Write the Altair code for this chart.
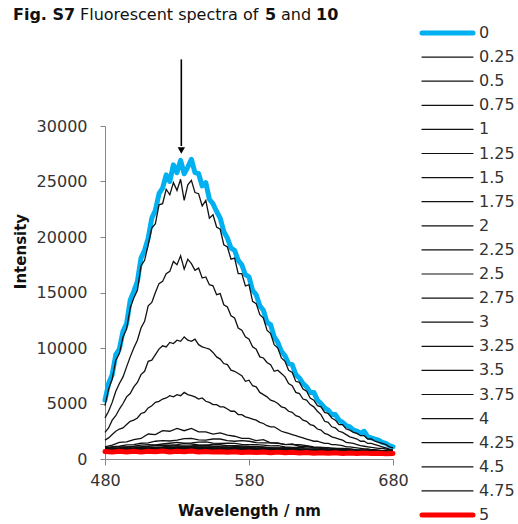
import altair as alt
import pandas as pd

# ---- data ----
WL25 = [480.0, 482.5, 485.0, 487.5, 490.0, 492.5, 495.0, 497.5, 500.0, 502.5,
        505.0, 507.5, 510.0, 512.5, 515.0, 517.5, 520.0, 522.5, 525.0, 527.5,
        530.0, 532.5, 535.0, 537.5, 540.0, 542.5, 545.0, 547.5, 550.0, 552.5,
        555.0, 557.5, 560.0, 562.5, 565.0, 567.5, 570.0, 572.5, 575.0, 577.5,
        580.0, 582.5, 585.0, 587.5, 590.0, 592.5, 595.0, 597.5, 600.0, 602.5,
        605.0, 607.5, 610.0, 612.5, 615.0, 617.5, 620.0, 622.5, 625.0, 627.5,
        630.0, 632.5, 635.0, 637.5, 640.0, 642.5, 645.0, 647.5, 650.0, 652.5,
        655.0, 657.5, 660.0, 662.5, 665.0, 667.5, 670.0, 672.5, 675.0, 677.5, 680.0]
WL5 = [480, 485, 490, 495, 500, 505, 510, 515, 520, 525, 530, 535, 540, 545, 550,
       555, 560, 565, 570, 575, 580, 585, 590, 595, 600, 605, 610, 615, 620, 625,
       630, 635, 640, 645, 650, 655, 660, 665, 670, 675, 680]

LABELS = ["0", "0.25", "0.5", "0.75", "1", "1.25", "1.5", "1.75", "2", "2.25", "2.5",
          "2.75", "3", "3.25", "3.5", "3.75", "4", "4.25", "4.5", "4.75", "5"]

s0 = [5300, 6800, 7600, 9400, 9900, 11500, 12200, 14300, 15100, 16000,
      18100, 18800, 19900, 21700, 22400, 23900, 24400, 25600, 25000, 26500,
      25800, 26900, 25700, 26300, 27000, 25800, 25700, 24600, 24900, 23400,
      23000, 22300, 21700, 20500, 19900, 19000, 18800, 17900, 17500, 16600,
      16400, 15200, 14800, 13800, 13400, 12300, 12100, 11000, 10500, 9700,
      9300, 8600, 8500, 7600, 7300, 6800, 6500, 6000, 6000, 5300,
      5000, 4600, 4400, 4000, 4000, 3500, 3300, 3000, 2900, 2600,
      2500, 2300, 2500, 2000, 1900, 1800, 1700, 1500, 1400, 1200, 1100]
s025 = [4800, 6300, 7200, 8900, 9500, 11000, 11700, 13600, 14500, 15200,
        17400, 17900, 19300, 20800, 21200, 22900, 23000, 24300, 23800, 24900,
        24200, 25200, 23300, 24700, 25100, 24000, 23900, 22800, 23300, 21700,
        22000, 20900, 20700, 19300, 19100, 18000, 18100, 16700, 16700, 15600,
        15700, 14200, 14000, 13000, 12700, 11600, 11300, 10300, 10000, 9100,
        8800, 8000, 7800, 7000, 6900, 6300, 6100, 5500, 5300, 4800,
        4700, 4200, 4100, 3700, 3500, 3100, 3100, 2700, 2600, 2400,
        2300, 2100, 2100, 1800, 1800, 1600, 1500, 1400, 1300, 1100, 1000]
s05 = [3700, 4300, 5100, 6100, 6800, 7400, 8300, 9200, 10000, 10700,
       11800, 12400, 13800, 14100, 15000, 15800, 16000, 16700, 16900, 17800,
       17500, 18300, 17100, 18000, 17600, 17000, 17200, 16300, 16400, 15700,
       15600, 14800, 14900, 13900, 13700, 12900, 12700, 11800, 11600, 11000,
       10800, 10100, 9900, 9200, 9100, 8700, 8500, 7900, 8000, 7700,
       7400, 6800, 6600, 6000, 5900, 5400, 5300, 4900, 4700, 4300,
       4000, 3400, 3300, 2900, 2800, 2500, 2400, 2200, 2000, 1900,
       1800, 1600, 1600, 1400, 1400, 1300, 1200, 1100, 1000, 900, 800]
s075 = [2400, 2800, 3500, 3900, 4500, 5000, 5600, 5900, 6500, 6900,
        7600, 7900, 8800, 8900, 9400, 9900, 10200, 10100, 10500, 10400,
        10700, 10600, 11000, 10700, 10600, 10800, 10300, 10100, 10000, 9900,
        9600, 9200, 9000, 8600, 8500, 8000, 7900, 7700, 7500, 7000,
        7100, 6600, 6500, 6000, 5800, 5600, 5300, 5200, 5000, 4700,
        4600, 4300, 4200, 3900, 3800, 3500, 3400, 3100, 3000, 2700,
        2600, 2300, 2200, 2000, 1900, 1800, 1700, 1500, 1450, 1400,
        1300, 1200, 1150, 1100, 1050, 1000, 950, 950, 900, 850, 800]
s1 = [1700, 1900, 2200, 2500, 2700, 2800, 3100, 3400, 3500, 3700,
      4100, 4200, 4600, 4800, 5100, 5200, 5400, 5500, 5700, 5600,
      5800, 5700, 6000, 5800, 5700, 5600, 5400, 5500, 5200, 5100,
      4900, 4900, 4700, 4700, 4500, 4300, 4300, 4000, 4000, 3800,
      3700, 3600, 3500, 3300, 3200, 3000, 2900, 2900, 2700, 2500,
      2400, 2300, 2200, 2100, 2000, 1900, 1800, 1700, 1600, 1600,
      1500, 1400, 1400, 1300, 1300, 1250, 1200, 1100, 1100, 1050,
      1000, 950, 900, 900, 850, 850, 800, 750, 750, 700, 700]

s125 = [1100, 1250, 1500, 1550, 1750, 1850, 2250, 2200, 2550, 2500, 2750, 2550, 2750, 2450,
        2450, 2250, 2350, 2150, 2050, 1850, 1850, 1650, 1750, 1450, 1450, 1300, 1350, 1150,
        1150, 1000, 1050, 920, 950, 870, 880, 820, 830, 780, 780, 720, 700]
s15 = [1000, 1120, 1150, 1280, 1300, 1420, 1450, 1600, 1650, 1620, 1700, 1830, 1850, 1720,
       1700, 1800, 1800, 1650, 1600, 1650, 1600, 1480, 1450, 1460, 1400, 1320, 1300, 1290,
       1200, 1080, 1050, 1030, 950, 960, 900, 820, 800, 800, 750, 710, 700]
s175 = [950, 1050, 1100, 1080, 1150, 1250, 1300, 1280, 1350, 1420, 1500, 1430, 1450, 1520,
        1550, 1430, 1400, 1430, 1400, 1320, 1300, 1300, 1250, 1190, 1200, 1100, 1050, 1050,
        1000, 990, 950, 880, 850, 840, 820, 760, 750, 740, 720, 690, 680]
s2 = [900, 980, 1000, 1080, 1100, 1110, 1150, 1230, 1250, 1240, 1300, 1380, 1350, 1270,
      1250, 1310, 1300, 1200, 1200, 1190, 1150, 1140, 1100, 1030, 1000, 1020, 1000, 920,
      900, 880, 850, 830, 800, 760, 750, 740, 720, 690, 680, 670, 660]
s225 = [880, 900, 950, 990, 1000, 1060, 1080, 1070, 1100, 1170, 1200, 1150, 1180, 1230,
        1250, 1160, 1150, 1180, 1150, 1090, 1080, 1070, 1050, 990, 980, 970, 950, 880,
        850, 840, 820, 780, 750, 760, 740, 710, 700, 670, 660, 660, 650]
s25 = [860, 900, 920, 920, 950, 990, 1000, 1040, 1060, 1090, 1100, 1160, 1150, 1100,
       1080, 1120, 1110, 1060, 1040, 1060, 1050, 1000, 980, 970, 950, 910, 900, 890,
       860, 810, 790, 780, 760, 720, 700, 710, 700, 670, 650, 650, 640]
s275 = [850, 860, 880, 910, 930, 930, 950, 990, 1010, 1020, 1040, 1050, 1060, 1090,
        1080, 1030, 1010, 1020, 1000, 970, 970, 960, 950, 910, 890, 880, 870, 840,
        820, 800, 780, 760, 740, 720, 710, 690, 680, 660, 650, 640, 630]
s3 = [840, 850, 870, 880, 890, 920, 940, 940, 950, 990, 1010, 1000, 1020, 1000,
      990, 1000, 1000, 970, 960, 960, 950, 920, 910, 890, 880, 860, 840, 820,
      800, 790, 770, 740, 730, 710, 690, 680, 670, 650, 640, 630, 620]
s325 = [830, 840, 850, 870, 880, 900, 910, 920, 930, 950, 960, 980, 990, 970,
        960, 970, 960, 950, 940, 920, 910, 900, 890, 870, 850, 840, 820, 810,
        790, 770, 750, 740, 720, 700, 690, 680, 660, 650, 640, 620, 610]
s35 = [820, 830, 840, 860, 870, 870, 880, 900, 910, 920, 930, 940, 950, 950,
       940, 930, 920, 920, 910, 890, 880, 870, 860, 840, 830, 810, 800, 780,
       760, 740, 730, 710, 700, 690, 680, 660, 650, 630, 620, 610, 600]
s375 = [810, 820, 830, 840, 850, 860, 870, 880, 880, 900, 910, 910, 920, 920,
        910, 900, 900, 890, 880, 880, 870, 850, 840, 820, 810, 800, 780, 760,
        750, 730, 720, 710, 700, 680, 670, 650, 640, 630, 620, 610, 600]
s4 = [800, 810, 820, 830, 840, 850, 850, 860, 870, 880, 890, 900, 900, 890,
      890, 880, 880, 870, 870, 860, 850, 830, 820, 810, 800, 780, 770, 750,
      740, 720, 710, 700, 690, 670, 660, 650, 640, 620, 610, 600, 590]
s425 = [790, 800, 810, 810, 820, 830, 840, 850, 860, 860, 870, 880, 880, 870,
        870, 860, 860, 850, 850, 840, 830, 820, 810, 790, 780, 770, 760, 740,
        730, 710, 700, 690, 680, 660, 650, 640, 630, 610, 600, 590, 580]
s45 = [780, 790, 800, 800, 810, 820, 830, 830, 840, 840, 850, 850, 860, 860,
       860, 850, 850, 840, 830, 820, 810, 800, 790, 780, 770, 750, 740, 730,
       720, 700, 690, 680, 670, 660, 650, 630, 620, 610, 600, 590, 580]
s475 = [770, 780, 790, 800, 800, 810, 810, 820, 820, 830, 840, 840, 840, 840,
        840, 830, 830, 820, 810, 800, 800, 790, 780, 770, 760, 740, 730, 720,
        710, 690, 680, 670, 660, 650, 640, 630, 620, 600, 590, 580, 570]
s5 = [680, 620, 700, 640, 690, 620, 700, 650, 720, 640, 700, 660, 720, 640, 680, 620, 660,
      600, 650, 590, 640, 580, 630, 560, 620, 570, 600, 540, 580, 520, 570, 520, 560, 500,
      540, 500, 530, 490, 520, 480, 500]

SERIES = {
    "0": (WL25, s0), "0.25": (WL25, s025), "0.5": (WL25, s05), "0.75": (WL25, s075),
    "1": (WL25, s1), "1.25": (WL5, s125), "1.5": (WL5, s15), "1.75": (WL5, s175),
    "2": (WL5, s2), "2.25": (WL5, s225), "2.5": (WL5, s25), "2.75": (WL5, s275),
    "3": (WL5, s3), "3.25": (WL5, s325), "3.5": (WL5, s35), "3.75": (WL5, s375),
    "4": (WL5, s4), "4.25": (WL5, s425), "4.5": (WL5, s45), "4.75": (WL5, s475),
    "5": (WL5, s5),
}

ARROW_WL = [533]
ARROW_TOP = [36000]
ARROW_END = [28200]
ARROW_TIP = [27800]

# ---- build tables ----
rows = []
for lab in LABELS:
    wls, vals = SERIES[lab]
    for w, v in zip(wls, vals):
        rows.append({"series": lab, "wl": w, "v": v})
df = pd.DataFrame(rows)

BLUE = "#00B0F0"
RED = "#FF0000"
FONT = "DejaVu Sans"
AX = "#868686"

legend_df = pd.DataFrame({
    "idx": list(range(len(LABELS))),
    "label": LABELS,
    "col": [BLUE if l == "0" else (RED if l == "5" else "#111111") for l in LABELS],
    "w": [5 if l in ("0", "5") else 1.2 for l in LABELS],
})

xenc = alt.X("wl:Q", scale=alt.Scale(domain=[480, 680], nice=False, zero=False),
             axis=alt.Axis(values=[480, 580, 680], title="Wavelength / nm",
                           titleFont=FONT, titleFontSize=15, titleFontWeight="bold",
                           titleColor="#111", titleBaseline="alphabetic", titleY=56,
                           labelFont=FONT, labelFontSize=16, labelColor="#333",
                           labelPadding=7, tickSize=6, tickColor=AX, domainColor=AX,
                           grid=False, labelFlush=False))
yenc = alt.Y("v:Q", scale=alt.Scale(domain=[0, 30000], nice=False),
             axis=alt.Axis(values=[0, 5000, 10000, 15000, 20000, 25000, 30000],
                           format="d", title="Intensity",
                           titleFont=FONT, titleFontSize=15, titleFontWeight="bold",
                           titleColor="#111", titleAngle=270, titleBaseline="alphabetic",
                           titleX=-80, titleY=125, titleAlign="center",
                           labelFont=FONT, labelFontSize=16, labelColor="#333",
                           labelPadding=13, tickSize=5, tickColor=AX, domainColor=AX,
                           grid=False))

base = alt.Chart(df)
blue = base.transform_filter(alt.datum.series == "0").mark_line(
    color=BLUE, strokeWidth=5, strokeJoin="round", strokeCap="round").encode(x=xenc, y=yenc)
black = base.transform_filter((alt.datum.series != "0") & (alt.datum.series != "5")).mark_line(
    color="#111111", strokeWidth=1.3).encode(x=xenc, y=yenc, detail="series:N")
red = base.transform_filter(alt.datum.series == "5").mark_line(
    color=RED, strokeWidth=5, strokeJoin="round", strokeCap="round").encode(x=xenc, y=yenc)

arrow_df = pd.DataFrame({"wl": ARROW_WL, "top": ARROW_TOP, "end": ARROW_END, "tip": ARROW_TIP})
arrow_line = alt.Chart(arrow_df).mark_rule(color="#000", strokeWidth=1.6).encode(
    x="wl:Q", y="top:Q", y2="end:Q")
arrow_head = alt.Chart(arrow_df).mark_point(shape="triangle-down", filled=True, size=55,
                                            color="#000", opacity=1).encode(x="wl:Q", y="tip:Q")

plot = alt.layer(blue, black, red, arrow_line, arrow_head)

ly = alt.Y("idx:Q", scale=alt.Scale(domain=[0, 20], range=[-93, 389]), axis=None)
leg_lines = alt.Chart(legend_df).mark_rule(strokeCap="round").encode(
    x=alt.value(317), x2=alt.value(368), y=ly,
    color=alt.Color("col:N", scale=None), strokeWidth=alt.StrokeWidth("w:Q", scale=None))
leg_text = alt.Chart(legend_df).mark_text(align="left", baseline="middle", font=FONT,
                                          fontSize=16, color="#333").encode(
    x=alt.value(374), y=ly, text="label:N")
legend = alt.layer(leg_lines, leg_text)

title_df = pd.DataFrame({"a": [0]})
def tseg(txt, xpos, bold):
    return alt.Chart(title_df).mark_text(align="left", baseline="alphabetic", font=FONT,
                                         fontSize=16, fontWeight="bold" if bold else "normal",
                                         color="#111", text=txt).encode(
        x=alt.value(xpos), y=alt.value(-106))

title = alt.layer(tseg("Fig. S7", -92, True), tseg("Fluorescent spectra of", -25, False),
                  tseg("5", 160, True), tseg("and", 176, False), tseg("10", 211, True))

chart = alt.layer(plot, legend, title).resolve_scale(y="independent").properties(
    width=288, height=333,
    padding={"left": 105, "top": 126, "right": 125, "bottom": 65},
    autosize=alt.AutoSizeParams(type="none"),
    background="white",
).configure_view(stroke=None)

chart.save("out.html", embed_options={"renderer": "svg", "actions": False})
